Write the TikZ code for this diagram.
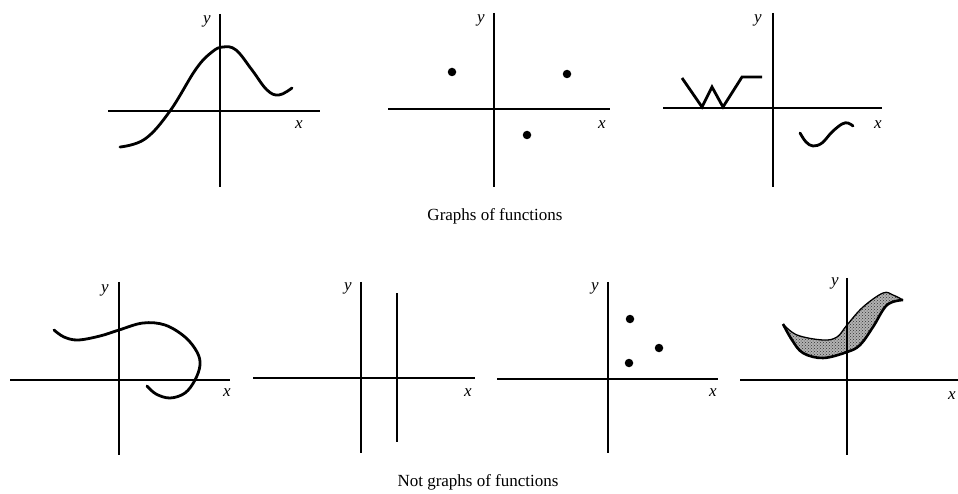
\documentclass[tikz,border=0pt]{standalone}
\usepackage{fontspec}
\setmainfont{Liberation Serif}
\usetikzlibrary{patterns}
\begin{document}
\begin{tikzpicture}[x=1pt,y=-1pt,
  axis/.style={line width=1.3pt},
  curve/.style={line width=2.8pt,line cap=round,line join=round},
  lbl/.style={inner sep=0pt,font=\fontsize{17}{20}\selectfont\itshape},
  captext/.style={inner sep=0pt,font=\fontsize{17}{20}\selectfont},
  dot/.style={circle,fill=black,inner sep=0pt,minimum size=8.5pt}]
\useasboundingbox (0,0) rectangle (958,494);
% ---------- Panel 1
\draw[axis] (108,111) -- (320,111);
\draw[axis] (220,14) -- (220,187);
\node[lbl] (y1) at (207,21) {y};
\node[lbl] (x1) at (299,125) {x};
\draw[curve] plot[smooth,tension=0.65] coordinates {(120,147) (145,139) (170,111) (196,69) (212,52) (223,47) (236,50) (252,70) (267,90) (279,95) (292,88)};
% ---------- Panel 2
\draw[axis] (388,109) -- (610,109);
\draw[axis] (494,13) -- (494,187);
\node[lbl] (y2) at (481,20) {y};
\node[lbl] (x2) at (602,125) {x};
\node[dot] (d1) at (452,72) {};
\node[dot] (d2) at (567,74) {};
\node[dot] (d3) at (527,135) {};
% ---------- Panel 3
\draw[axis] (663,108) -- (882,108);
\draw[axis] (773,13) -- (773,187);
\node[lbl] (y3) at (758,20) {y};
\node[lbl] (x3) at (878,125) {x};
\draw[curve,line cap=butt,line join=miter] (682,78) -- (702,107) -- (712,87) -- (723,107) -- (742,77) -- (762,77);
\draw[curve] plot[smooth,tension=0.6] coordinates {(800,133) (806,142) (813,146) (822,143) (832,132) (842,124) (848,123) (853,126)};
\node[captext] (c1) at (495,216) {Graphs of functions};
% ---------- Panel 4
\draw[axis] (10,380) -- (230,380);
\draw[axis] (119,282) -- (119,455);
\node[lbl] (y4) at (105,290) {y};
\node[lbl] (x4) at (227,393) {x};
\draw[curve] plot[smooth,tension=0.6] coordinates {(54,330) (64,337) (78,340) (100,336) (119,330) (143,323) (165,325) (185,337) (197,352) (200,365) (195,380) (185,393) (170,398) (156,394) (147,386)};
% ---------- Panel 5
\draw[axis] (253,378) -- (475,378);
\draw[axis] (361,282) -- (361,453);
\draw[line width=2.2pt] (397,293) -- (397,442);
\node[lbl] (y5) at (348,288) {y};
\node[lbl] (x5) at (468,393) {x};
% ---------- Panel 6
\draw[axis] (497,379) -- (718,379);
\draw[axis] (608,282) -- (608,453);
\node[lbl] (y6) at (595,288) {y};
\node[lbl] (x6) at (713,393) {x};
\node[dot] (e1) at (630,319) {};
\node[dot] (e2) at (659,348) {};
\node[dot] (e3) at (629,363) {};
% ---------- Panel 7
\path[fill=gray!60] plot[smooth,tension=0.6] coordinates {(783,324) (797,335) (823,340) (837,337) (847,325) (863,307) (883,293) (893,295) (903,300)}
  -- plot[smooth,tension=0.6] coordinates {(903,300) (887,305) (873,327) (860,345) (847,352) (823,358) (803,353) (792,340) (783,324)} -- cycle;
\path[pattern=crosshatch dots,pattern color=black!80] plot[smooth,tension=0.6] coordinates {(783,324) (797,335) (823,340) (837,337) (847,325) (863,307) (883,293) (893,295) (903,300)}
  -- plot[smooth,tension=0.6] coordinates {(903,300) (887,305) (873,327) (860,345) (847,352) (823,358) (803,353) (792,340) (783,324)} -- cycle;
\draw[line width=1.3pt] plot[smooth,tension=0.6] coordinates {(783,324) (797,335) (823,340) (837,337) (847,325) (863,307) (883,293) (893,295) (903,300)};
\draw[line width=2.6pt,line join=round] plot[smooth,tension=0.6] coordinates {(903,300) (887,305) (873,327) (860,345) (847,352) (823,358) (803,353) (792,340) (783,324)};
\draw[axis] (740,380) -- (958,380);
\draw[axis] (847,278) -- (847,455);
\node[lbl] (y7) at (835,283) {y};
\node[lbl] (x7) at (952,396) {x};
\node[captext] (c2) at (478,482) {Not graphs of functions};
\end{tikzpicture}
\end{document}
